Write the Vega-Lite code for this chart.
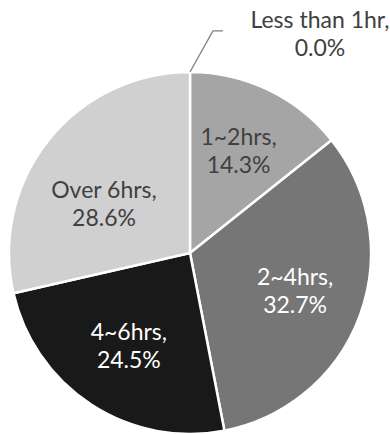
{
  "$schema": "https://vega.github.io/schema/vega-lite/v6.json",
  "width": 364,
  "height": 362,
  "autosize": "none",
  "padding": {"left": 8, "top": 72, "right": 18, "bottom": 0},
  "background": "white",
  "view": {"stroke": null},
  "datasets": {
    "usage": [
      {"seq": 1, "band": "Less than 1hr", "pct": 0.0},
      {"seq": 2, "band": "1~2hrs", "pct": 14.3},
      {"seq": 3, "band": "2~4hrs", "pct": 32.7},
      {"seq": 4, "band": "4~6hrs", "pct": 24.5},
      {"seq": 5, "band": "Over 6hrs", "pct": 28.6}
    ],
    "leader": [
      {"k": 0, "u": 0.0, "v": 1.0},
      {"k": 1, "u": 0.126, "v": 1.227},
      {"k": 2, "u": 0.181, "v": 1.227}
    ]
  },
  "layer": [
    {
      "data": {"name": "usage"},
      "mark": {"type": "arc", "stroke": "white", "strokeWidth": 2.5},
      "encoding": {
        "theta": {"field": "pct", "type": "quantitative", "stack": true, "scale": {"domain": [0, 100.1]}},
        "order": {"field": "seq", "type": "quantitative"},
        "color": {
          "field": "band",
          "type": "nominal",
          "scale": {
            "domain": ["Less than 1hr", "1~2hrs", "2~4hrs", "4~6hrs", "Over 6hrs"],
            "range": ["#e6e6e6", "#a5a5a5", "#767676", "#191919", "#d0d0d0"]
          },
          "legend": null
        }
      }
    },
    {
      "data": {"name": "usage"},
      "transform": [
        {"calculate": "[datum.band + ',', format(datum.pct, '.1f') + '%']", "as": "label"},
        {"filter": "datum.pct > 0 && datum.seq < 5"}
      ],
      "mark": {"type": "text", "radius": 112, "dy": -14, "font": "Lato", "fontSize": 23, "lineHeight": 28, "align": "center", "baseline": "middle"},
      "encoding": {
        "theta": {"field": "pct", "type": "quantitative", "stack": true},
        "order": {"field": "seq", "type": "quantitative"},
        "text": {"field": "label"},
        "color": {"condition": {"test": "datum.seq == 3 || datum.seq == 4", "value": "white"}, "value": "#404040"}
      }
    },
    {
      "data": {"name": "usage"},
      "transform": [
        {"calculate": "[datum.band + ',', format(datum.pct, '.1f') + '%']", "as": "label"}
      ],
      "mark": {"type": "text", "radius": 110, "dy": 7, "font": "Lato", "fontSize": 23, "lineHeight": 28, "align": "center", "baseline": "middle", "color": "#404040"},
      "encoding": {
        "theta": {"field": "pct", "type": "quantitative", "stack": true},
        "order": {"field": "seq", "type": "quantitative"},
        "text": {"condition": {"test": "datum.seq == 5", "field": "label"}, "value": ""}
      }
    },
    {
      "data": {"name": "usage"},
      "transform": [
        {"calculate": "[datum.band + ',', format(datum.pct, '.1f') + '%']", "as": "label"},
        {"filter": "datum.pct == 0"}
      ],
      "mark": {"type": "text", "radius": 200, "dx": 130, "dy": -32, "font": "Lato", "fontSize": 23, "lineHeight": 28, "align": "center", "baseline": "middle", "color": "#404040"},
      "encoding": {
        "theta": {"field": "pct", "type": "quantitative", "stack": true},
        "order": {"field": "seq", "type": "quantitative"},
        "text": {"field": "label"}
      }
    },
    {
      "data": {"name": "leader"},
      "mark": {"type": "line", "color": "#808080", "strokeWidth": 1.3},
      "encoding": {
        "x": {"field": "u", "type": "quantitative", "scale": {"domain": [-1, 1], "nice": false, "zero": false}, "axis": null},
        "y": {"field": "v", "type": "quantitative", "scale": {"domain": [-1, 1], "nice": false, "zero": false}, "axis": null},
        "order": {"field": "k", "type": "quantitative"}
      }
    }
  ]
}
